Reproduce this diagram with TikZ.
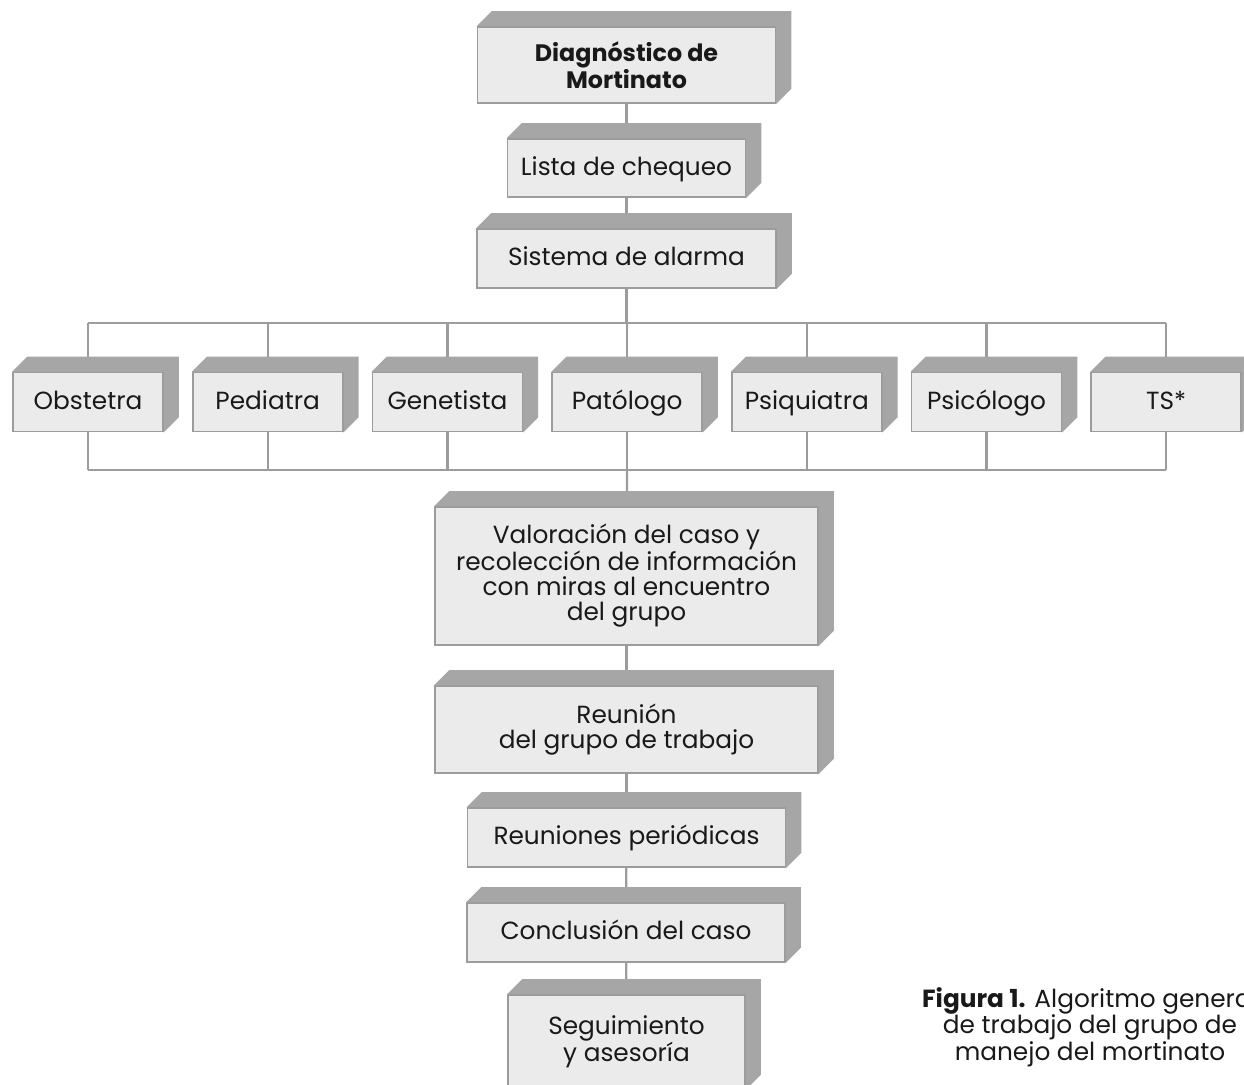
\documentclass[tikz,border=0pt]{standalone}
\usepackage{fontspec}
\setmainfont{Poppins}
\usepackage{tikz}
\usetikzlibrary{calc, backgrounds}
\definecolor{BoxFront}{RGB}{235,235,235}
\definecolor{BoxEdge}{RGB}{156,156,156}
\definecolor{BoxSide}{RGB}{166,166,166}
\definecolor{LinkGray}{RGB}{156,156,156}
\definecolor{TextInk}{RGB}{25,25,25}

\begin{document}
\begin{tikzpicture}[x=1pt, y=-1pt,
          box/.style={rectangle, draw=BoxEdge, fill=BoxFront, line width=1.6pt,
                      inner sep=0pt, align=center, text=TextInk,
                      font=\fontsize{24.8}{25}\selectfont},
          single/.style={box, text height=19pt, text depth=5pt},
          role/.style={single, minimum width=150pt, minimum height=59pt},
          link/.style={draw=LinkGray, line width=2.2pt},
          caption/.style={align=center, text=TextInk,
                          font=\fontsize{24.8}{25}\selectfont}
        ]
        \useasboundingbox (0,0) rectangle (1244,1084);

        % Main column, top part
        \node[box, minimum width=298pt, minimum height=76pt,
              font=\fontsize{23.8}{24.5}\selectfont\bfseries] (diag) at (626.5,65)
              {Diagnóstico de\\ Mortinato};
        \node[single, minimum width=238pt, minimum height=58pt] (lista) at (626.5,168)
              {Lista de chequeo};
        \node[single, minimum width=299pt, minimum height=59pt] (alarma) at (626.5,258.5)
              {Sistema de alarma};

        % Group members
        \foreach \n/\x/\txt in {obst/88/Obstetra, ped/267.7/Pediatra,
                                gen/447.4/Genetista, pato/627.1/Patólogo,
                                psiq/806.8/Psiquiatra, psic/986.5/Psicólogo,
                                ts/1166.2/TS*} {
          \node[role] (\n) at (\x,402) {\txt};
        }
        \coordinate (busT) at (627,323);
        \coordinate (busB) at (627,470);

        % Main column, bottom part
        \node[box, minimum width=383pt, minimum height=138pt] (valor) at (626.5,576)
              {Valoración del caso y\\ recolección de información\\
               con miras al encuentro\\ del grupo};
        \node[box, minimum width=383pt, minimum height=87pt] (reunion) at (626.5,729.5)
              {Reunión\\ del grupo de trabajo};
        \node[single, minimum width=318pt, minimum height=59pt] (periodicas) at (626.5,837.5)
              {Reuniones periódicas};
        \node[single, minimum width=318pt, minimum height=59pt] (conclusion) at (626,932.5)
              {Conclusión del caso};
        \node[box, minimum width=237pt, minimum height=94pt] (seguim) at (626.5,1042)
              {Seguimiento\\ y asesoría};

        % Caption
        \node[caption] (cap) at (1090,1027)
              {\textbf{Figura 1.} Algoritmo general\\ de trabajo del grupo de\\
               manejo del mortinato};

        \begin{scope}[on background layer]
          % Connectors
          \draw[link] (diag) -- (lista);
          \draw[link] (lista) -- (alarma);
          \draw[link] (alarma) -- (alarma |- busT);
          \draw[link] (obst |- busT) -- (ts |- busT);
          \draw[link] (obst |- busB) -- (ts |- busB);
          \foreach \n in {obst,ped,gen,pato,psiq,psic,ts} {
            \draw[link] (\n |- busT) -- (\n);
            \draw[link] (\n) -- (\n |- busB);
          }
          \draw[link] (pato |- busB) -- (valor);
          \draw[link] (valor) -- (reunion);
          \draw[link] (reunion) -- (periodicas);
          \draw[link] (periodicas) -- (conclusion);
          \draw[link] (conclusion) -- (seguim);

          % Depth faces
          \foreach \n in {diag,lista,alarma,obst,ped,gen,pato,psiq,psic,ts,
                          valor,reunion,periodicas,conclusion,seguim} {
            \fill[BoxSide] (\n.north west) -- ++(15,-15)
                  -| ([shift={(15,-15)}]\n.south east) -- (\n.south east) -- cycle;
          }
        \end{scope}
      \end{tikzpicture}
\end{document}
